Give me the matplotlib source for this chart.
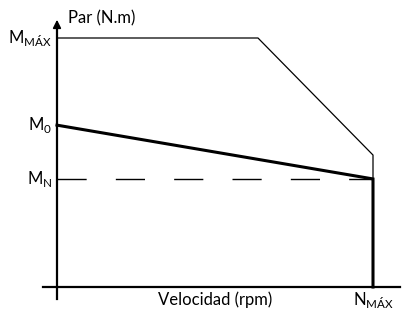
import matplotlib.pyplot as plt

# characteristic curves (speed as fraction of N_max, torque as fraction of M_max)
speed_limit = [0.0, 0.636, 1.0, 1.0]
torque_limit = [1.0, 1.0, 0.53, 0.434]
speed_work = [0.0, 1.0, 1.0]
torque_work = [0.65, 0.434, 0.0]
m_max, m_0, m_n = 1.0, 0.65, 0.434
n_max = 1.0

plt.rcParams["font.family"] = ["Lato", "DejaVu Sans"]
plt.rcParams["mathtext.fontset"] = "custom"
plt.rcParams["mathtext.rm"] = "Lato"

fig = plt.figure(figsize=(4.07, 3.11), dpi=100)
ax = fig.add_axes([0, 0, 1, 1])
# pixel mapping: x=0 at px 57, x=1 at px 373; y=0 at px 287, y=1 at px 38
sx, sy = 316.0, 249.0
ax.set_xlim(-57 / sx, (407 - 57) / sx)
ax.set_ylim(-(311 - 287) / sy, 287 / sy)
ax.axis("off")

# axes with arrows
ax.plot([-14 / sx, 343 / sx], [0, 0], color="black", lw=1.6)
ax.annotate("", xy=(351 / sx, 0), xytext=(336 / sx, 0),
            arrowprops=dict(arrowstyle="-|>", color="black", lw=1.2, mutation_scale=12))
ax.plot([0, 0], [-12 / sy, 262 / sy], color="black", lw=1.6)
ax.annotate("", xy=(0, 270 / sy), xytext=(0, 256 / sy),
            arrowprops=dict(arrowstyle="-|>", color="black", lw=1.2, mutation_scale=12))

ax.plot(speed_limit, torque_limit, color="black", lw=0.9)
ax.plot([0, n_max], [m_n, m_n], color="black", lw=1.0, dashes=(21, 21))
ax.plot(speed_work, torque_work, color="black", lw=2.2, solid_joinstyle="miter")

fs = 12
ax.text(11 / sx, 269 / sy, "Par (N.m)", fontsize=fs, ha="left", va="center")
ax.text(-5 / sx, m_max, r"M$_{\mathregular{MÁX}}$", fontsize=fs, ha="right", va="center")
ax.text(-5 / sx, m_0, r"M$_{\mathregular{0}}$", fontsize=fs, ha="right", va="center")
ax.text(-5 / sx, m_n, r"M$_{\mathregular{N}}$", fontsize=fs, ha="right", va="center")
ax.text(0.5, -13 / sy, "Velocidad (rpm)", fontsize=fs, ha="center", va="center")
ax.text(n_max, -13 / sy, r"N$_{\mathregular{MÁX}}$", fontsize=fs, ha="center", va="center")

plt.savefig("out.png", dpi=100)
plt.close()
